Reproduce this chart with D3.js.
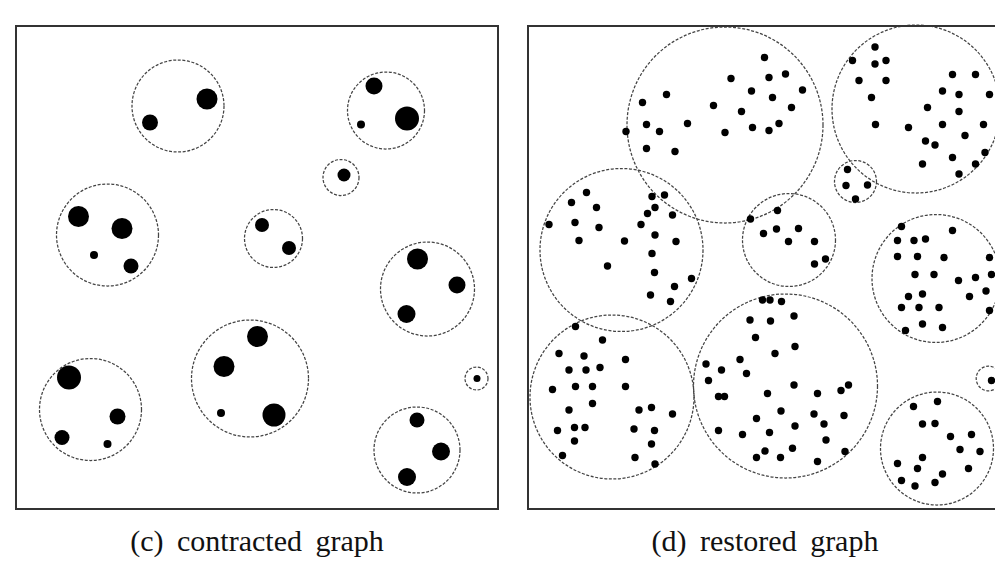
<!DOCTYPE html>
<html>
<head>
<meta charset="utf-8">
<script src="https://cdn.jsdelivr.net/npm/d3@7"></script>
<style>
  body { margin: 0; background: #fff; }
  svg { display: block; }
  .caption { font-family: "Liberation Serif", "Times New Roman", serif; font-size: 30px; word-spacing: 6px; fill: #111; }
</style>
</head>
<body>
<div class="container"></div>
<script>
// cluster outlines: [cx, cy, r]  (units: picture pixels)
var contractedClusters = [
  [178, 106, 46], [107.5, 235, 51], [386, 110.5, 38.5], [341, 177.5, 18],
  [273.5, 238.5, 29], [427.5, 289, 47], [476.5, 378.5, 11.5], [417, 450, 43],
  [250, 378.5, 58.5], [90.5, 409.5, 51]
];
// contracted nodes: [x, y, r]
var contractedNodes = [
  [207, 99, 10.5], [150, 122.5, 8],
  [78.5, 216.5, 10.5], [122, 228.5, 10.5], [94, 255, 4], [131, 266, 7.5],
  [374, 86, 8.5], [407, 118.5, 12], [361, 124.5, 4],
  [344, 175, 6.5],
  [262, 225, 7], [289, 248, 7],
  [417.5, 259, 10.5], [457, 285, 8.5], [406.5, 314, 9],
  [477, 378.5, 3.5],
  [417, 420, 7.5], [441, 451.5, 9], [407, 477, 9],
  [257.5, 336.5, 10.5], [224, 366.5, 10.5], [221, 413, 4], [274, 415, 11.5],
  [69, 377.5, 12], [117.5, 416.5, 8], [62, 437.5, 7.5], [107.5, 444, 4]
];

var restoredClusters = [
  [725, 125, 98], [916, 109, 84], [855.5, 181.5, 21], [621.5, 250, 81.5],
  [789, 240, 46.5], [936, 278.5, 64], [612, 397, 82], [785.5, 386, 92],
  [988.5, 378.5, 12.3], [937, 448.5, 56.5]
];
// restored nodes: [x, y]
var restoredNodes = [
  // A
  [731, 78.5], [751.5, 91], [666.5, 94.5], [642.5, 102.5], [713.5, 105.5], [741.5, 111.5],
  [646.5, 124.5], [687.5, 123.5], [659.5, 131.5], [626, 131.5], [725, 132.5], [752.5, 127.5],
  [646.5, 148.5], [675, 151.5], [764.5, 57.5], [769, 77.5], [785.5, 74], [802.5, 90],
  [772.5, 97.5], [791.5, 107.5], [779, 123.5], [769, 130.5],
  // B
  [875, 47], [852.5, 60.5], [875, 64], [886, 60.5], [859, 80.5], [886, 80.5], [871.5, 97.5],
  [952.5, 74.5], [975.5, 74.5], [942.5, 91], [959, 94.5], [989.5, 94.5], [927.5, 107.5],
  [959, 111.5], [875.5, 124.5], [908.5, 127.5], [942.5, 124.5], [983.5, 124.5], [965, 135.5],
  [925.5, 141], [935, 145], [985, 152.5], [952.5, 157.5], [975.5, 164], [922.5, 164], [959, 174],
  // C
  [847.5, 169.5], [846, 185.5], [867.5, 185], [855.5, 199],
  // D
  [586.5, 192.5], [571.5, 202.5], [596.5, 207.5], [549, 224.5], [575, 222.5], [599, 227.5],
  [579, 240.5], [624.5, 241], [652, 196.5], [664.5, 195], [655, 207.5], [647.5, 213.5],
  [672.5, 215], [641, 224.5], [655, 235], [676, 241.5], [652, 253.5], [607.5, 266],
  [654.5, 272.5], [691.5, 278.5], [674.5, 286.5], [650.5, 295], [670.5, 301.5],
  // E
  [750.5, 219], [777.5, 210.5], [763.5, 233.5], [776.5, 229], [798.5, 228.5], [788.5, 241.5],
  [814.5, 241.5], [825.5, 259], [814.5, 264],
  // F
  [901.5, 226.5], [952.5, 230.5], [897.5, 240.5], [914, 240.5], [925.5, 239], [897.5, 256.5],
  [917.5, 256.5], [944, 257.5], [989.5, 257.5], [915, 274.5], [934, 274.5], [958.5, 280.5],
  [975.5, 277.5], [991.5, 274.5], [908.5, 296.5], [922.5, 294], [986, 291], [969.5, 296.5],
  [901.5, 307.5], [919, 307.5], [939, 307.5], [989.5, 310.5], [922.5, 324], [942.5, 327.5],
  [905.5, 330.5],
  // G
  [575.5, 326.5], [602.5, 340], [559, 353.5], [584, 356], [625.5, 359.5], [569, 370],
  [586, 370], [600, 367.5], [552.5, 389.5], [575.5, 386.5], [592.5, 386.5], [625.5, 386.5],
  [569, 410], [592.5, 403.5], [639, 410], [651.5, 407.5], [672.5, 414], [557.5, 430.5],
  [574.5, 427.5], [585, 427.5], [634, 429], [654.5, 430.5], [574.5, 441], [651.5, 444],
  [562.5, 455.5], [635, 457.5], [655, 464],
  // H
  [750, 320], [755.5, 337.5], [706, 364], [721.5, 370], [740, 359.5], [746.5, 373.5],
  [708.5, 380.5], [718.5, 396.5], [724.5, 396.5], [756.5, 418.5], [718.5, 430.5], [742.5, 434.5],
  [756.5, 457.5], [762.5, 300], [770, 300], [781.5, 301.5], [770.5, 321], [794, 316],
  [775, 353.5], [795, 346.5], [767.5, 393.5], [794, 385], [817.5, 393.5], [841, 390.5],
  [848.5, 385], [781, 411], [814, 414], [844, 415.5], [769.5, 432.5], [795, 426], [824, 424],
  [826, 440], [765, 451], [780.5, 457.5], [792.5, 448.3], [817.5, 461.5], [845, 451.5],
  // I
  [991.5, 380.5],
  // J
  [913.5, 406.5], [937.5, 401.5], [922.5, 424], [935, 423.5], [950.5, 436.5], [971.5, 434.5],
  [960, 449.5], [980, 451.5], [922.5, 457.5], [897.5, 463.5], [917.5, 468.5], [968.5, 468.5],
  [942.5, 474], [901.5, 480.5], [915, 486], [935, 482.5]
];

var captions = ["(c) contracted graph", "(d) restored graph"];

var SVG_WIDTH = 995, SVG_HEIGHT = 561;

var panels = [
  { box: [16, 26, 498, 509], clusters: contractedClusters, nodes: contractedNodes, caption: captions[0] },
  { box: [528, 26, 1010, 509], clusters: restoredClusters, nodes: restoredNodes, caption: captions[1] }
];

document.addEventListener('DOMContentLoaded', function () {
  var svg = d3.select(".container").append("svg")
    .attr("width", SVG_WIDTH)
    .attr("height", SVG_HEIGHT);

  panels.forEach(function (p, i) {
    var x = d3.scaleLinear().domain([p.box[0], p.box[2]]).range([p.box[0], p.box[2]]);
    var y = d3.scaleLinear().domain([p.box[1], p.box[3]]).range([p.box[1], p.box[3]]);

    var g = svg.append("g").attr("class", "panel-" + i);

    g.selectAll("circle.cluster")
      .data(p.clusters)
      .enter().append("circle")
      .attr("class", "cluster")
      .attr("cx", function (d) { return x(d[0]); })
      .attr("cy", function (d) { return y(d[1]); })
      .attr("r", function (d) { return x(p.box[0] + d[2]) - x(p.box[0]); })
      .attr("fill", "none")
      .attr("stroke", "#444")
      .attr("stroke-width", 1.25)
      .attr("stroke-dasharray", "3,1.6");

    g.selectAll("circle.node")
      .data(p.nodes)
      .enter().append("circle")
      .attr("class", "node")
      .attr("cx", function (d) { return x(d[0]); })
      .attr("cy", function (d) { return y(d[1]); })
      .attr("r", function (d) { return d.length > 2 ? d[2] : 3.7; })
      .attr("fill", "#000");

    g.append("rect")
      .attr("x", x(p.box[0]))
      .attr("y", y(p.box[1]))
      .attr("width", x(p.box[2]) - x(p.box[0]))
      .attr("height", y(p.box[3]) - y(p.box[1]))
      .attr("fill", "none")
      .attr("stroke", "#333")
      .attr("stroke-width", 2);

    svg.append("text")
      .attr("class", "caption")
      .attr("x", i === 0 ? 257 : 765)
      .attr("y", 551)
      .attr("text-anchor", "middle")
      .text(p.caption);
  });
});
</script>
</body>
</html>
